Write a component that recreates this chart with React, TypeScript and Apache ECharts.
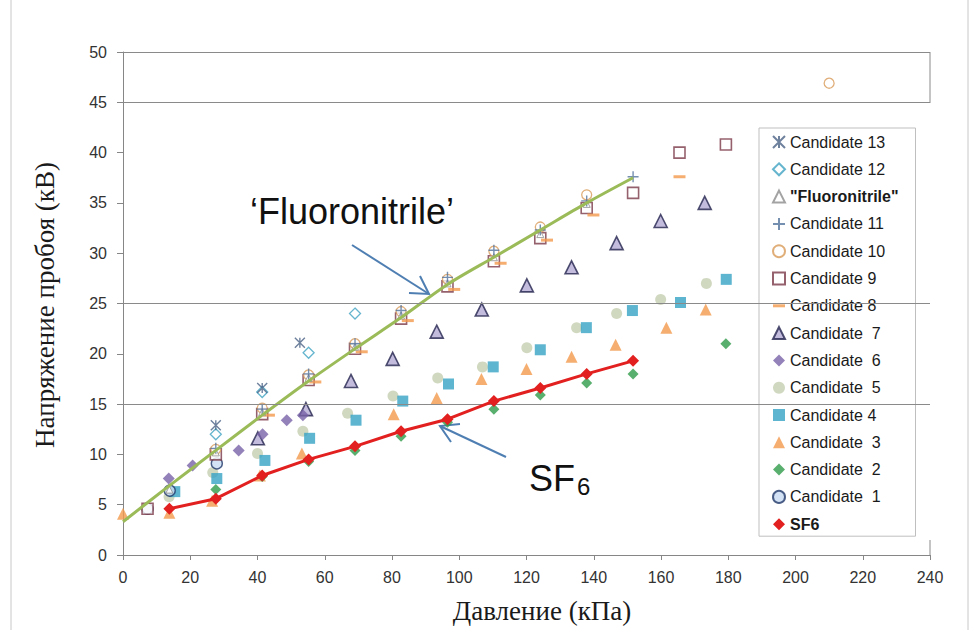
import React, { useEffect, useRef } from 'react';
import * as echarts from 'echarts';

// ---- data (pressure kPa, breakdown voltage kV) ----
const candidate13: [number, number][] = [[27.6, 12.9], [41.4, 16.6], [52.6, 21.1]];
const candidate12: [number, number][] = [[27.6, 12.0], [41.4, 16.2], [55.2, 20.1], [69, 24.0]];
const fluoronitrile: [number, number][] = [[13.8, 6.5], [27.6, 10.2], [41.4, 14.2], [55.2, 17.6], [69, 20.7], [82.7, 23.8], [96.5, 27.0], [110.3, 29.6], [124.1, 31.9], [137.9, 34.9]];
const candidate11: [number, number][] = [[27.6, 10.6], [41.4, 14.5], [55.2, 18.0], [69, 21.0], [82.7, 24.3], [96.5, 27.6], [110.3, 30.3], [124.1, 32.3], [137.9, 35.2], [151.7, 37.6]];
const candidate10: [number, number][] = [[27.6, 10.5], [41.4, 14.6], [55.2, 17.9], [69, 21.0], [82.7, 24.2], [96.5, 27.4], [110.3, 30.2], [124.1, 32.6], [137.9, 35.8], [210, 46.9]];
const candidate9: [number, number][] = [[7.3, 4.6], [27.6, 10.0], [41.4, 14.0], [55.2, 17.4], [69, 20.5], [82.7, 23.5], [96.5, 26.7], [110.3, 29.2], [124.1, 31.5], [137.9, 34.5], [151.7, 36.0], [165.5, 40.0], [179.3, 40.8]];
const candidate8: [number, number][] = [[43.4, 13.9], [57.2, 17.2], [71, 20.2], [84.7, 23.3], [98.5, 26.4], [112.3, 29.0], [126.1, 31.3], [139.9, 33.8], [165.5, 37.6]];
const candidate7: [number, number][] = [[40.1, 11.6], [54.4, 14.5], [67.8, 17.3], [80.2, 19.5], [93.3, 22.2], [106.7, 24.4], [120.1, 26.8], [133.4, 28.6], [146.8, 31.0], [159.9, 33.2], [173, 35.0]];
const candidate6: [number, number][] = [[13.6, 7.6], [20.7, 8.9], [34.4, 10.4], [41.5, 12.0], [48.7, 13.4], [53.5, 13.9]];
const candidate5: [number, number][] = [[13.7, 5.8], [26.7, 8.2], [40, 10.1], [53.5, 12.3], [66.8, 14.1], [80.3, 15.8], [93.6, 17.6], [106.9, 18.7], [120.1, 20.6], [134.9, 22.6], [146.8, 24.0], [159.9, 25.4], [173.5, 27.0]];
const candidate4: [number, number][] = [[15.4, 6.3], [27.9, 7.6], [42.2, 9.4], [55.5, 11.6], [69.3, 13.4], [83.2, 15.3], [96.8, 17.0], [110.1, 18.7], [124.1, 20.4], [137.8, 22.6], [151.5, 24.3], [165.8, 25.1], [179.4, 27.4]];
const candidate3: [number, number][] = [[0, 4.1], [13.8, 4.2], [26.5, 5.4], [40.7, 7.9], [53.2, 10.1], [80.5, 14.0], [93.3, 15.6], [106.6, 17.5], [120, 18.5], [133.4, 19.7], [146.5, 20.9], [161.6, 22.6], [173.3, 24.4]];
const candidate2: [number, number][] = [[27.6, 6.5], [41.4, 7.8], [55.2, 9.3], [69, 10.4], [82.7, 11.8], [96.5, 13.2], [110.3, 14.5], [124.1, 15.9], [137.9, 17.1], [151.7, 18.0], [179.3, 21.0]];
const candidate1: [number, number][] = [[7.3, 4.6], [13.9, 6.4], [27.9, 9.1]];
const sf6: [number, number][] = [[13.8, 4.6], [27.6, 5.6], [41.4, 7.9], [55.2, 9.5], [69, 10.8], [82.7, 12.3], [96.5, 13.5], [110.3, 15.3], [124.1, 16.6], [137.9, 18.0], [151.7, 19.3]];
const trendX = [0, 13.8, 27.6, 41.4, 55.2, 69, 82.7, 96.5, 110.3, 124.1, 137.9, 151.7];
const trendY = [3.3, 6.9, 10.4, 13.9, 17.3, 20.5, 23.6, 26.9, 29.6, 32.3, 35.0, 37.5];
const gridLevels = [15, 25, 45, 50];

const legendNames = [
  'Candidate 13', 'Candidate 12', '"Fluoronitrile"', 'Candidate 11', 'Candidate 10',
  'Candidate 9', 'Candidate 8', 'Candidate  7', 'Candidate  6', 'Candidate  5',
  'Candidate 4', 'Candidate  3', 'Candidate  2', 'Candidate  1', 'SF6',
];

const SANS = '"Liberation Sans", Arial, sans-serif';
const SERIF = '"Liberation Serif", "Times New Roman", serif';

const ASTER = 'path://M0,0L10,10M10,0L0,10M5,0L5,10';
const PLUS = 'path://M5,0L5,10M0,5L10,5';
const DASH = 'path://M0,0L10,0L10,2.5L0,2.5Z';

function sc(name: string, data: [number, number][], symbol: string, size: any, itemStyle: any, z = 3) {
  return { type: 'scatter', name, data, symbol, symbolSize: size, itemStyle, z };
}

export default function App() {
  const ref = useRef<HTMLDivElement>(null);
  useEffect(() => {
    const chart = echarts.init(ref.current!, undefined, { renderer: 'svg' });
    const trend = trendX.map((x, i) => [x, trendY[i]]);
    const series: any[] = [
      {
        type: 'line', name: 'grid', data: [], z: 1,
        markLine: {
          silent: true, symbol: 'none', label: { show: false },
          lineStyle: { color: '#8a8a8a', width: 1, type: 'solid' },
          data: gridLevels.map((v) => ({ yAxis: v })),
        },
      },
      sc('Candidate  5', candidate5, 'circle', 11, { color: '#c4ceb0' }),
      sc('Candidate 4', candidate4, 'rect', 11, { color: '#35a2c4' }),
      sc('Candidate  3', candidate3, 'triangle', 12, { color: '#f39a4c' }),
      sc('Candidate  2', candidate2, 'diamond', 11, { color: '#2f9b48' }),
      sc('Candidate  7', candidate7, 'triangle', 13, { color: '#b4abd4', borderColor: '#23234d', borderWidth: 1.6 }),
      sc('Candidate  6', candidate6, 'diamond', 12, { color: '#7862a8' }),
      sc('Candidate  1', candidate1, 'circle', 11, { color: '#c9dbf2', borderColor: '#1f3768', borderWidth: 1.4 }),
      sc('Candidate 9', candidate9, 'rect', 11, { color: '#ffffff', borderColor: '#7a3a48', borderWidth: 1.6 }),
      sc('Candidate 10', candidate10, 'circle', 10, { color: '#ffffff', borderColor: '#d89a58', borderWidth: 1.3 }),
      sc('Candidate 8', candidate8, DASH, [12, 3], { color: '#f39a4c' }),
      sc('Candidate 12', candidate12, 'diamond', 11, { color: '#ffffff', borderColor: '#3ea3c2', borderWidth: 1.3 }),
      sc('Candidate 13', candidate13, ASTER, 10, { color: 'transparent', borderColor: '#4a6285', borderWidth: 1.4 }),
      sc('"Fluoronitrile"', fluoronitrile, 'triangle', 7, { color: '#ffffff', borderColor: '#8c8c8c', borderWidth: 1 }),
      sc('Candidate 11', candidate11, PLUS, 11, { color: 'transparent', borderColor: '#53739c', borderWidth: 1.4 }),
      {
        type: 'line', name: 'trend', data: trend, smooth: 0.3, symbol: 'none',
        lineStyle: { color: '#9bbb59', width: 3 }, z: 4,
      },
      {
        type: 'line', name: 'SF6', data: sf6, symbol: 'diamond', symbolSize: 12,
        lineStyle: { color: '#e2201f', width: 3 }, itemStyle: { color: '#e2201f' }, z: 5,
      },
    ];

    const legendData = legendNames.map((n) => {
      const item: any = { name: n };
      if (n === 'SF6') { item.icon = 'diamond'; item.textStyle = { fontWeight: 'bold' }; }
      if (n === '"Fluoronitrile"') { item.textStyle = { fontWeight: 'bold' }; }
      return item;
    });

    const arrowColor = '#4f7fb2';
    chart.setOption({
      animation: false,
      backgroundColor: '#ffffff',
      grid: { left: 123, right: 44, top: 52, bottom: 75, containLabel: false },
      xAxis: {
        type: 'value', min: 0, max: 240, interval: 20,
        axisLine: { lineStyle: { color: '#868686', width: 1 } },
        axisTick: { show: true, length: 5, lineStyle: { color: '#868686' } },
        axisLabel: { fontSize: 16, color: '#333333', fontFamily: SANS, margin: 14 },
        splitLine: { show: false },
      },
      yAxis: {
        type: 'value', min: 0, max: 50, interval: 5,
        axisLine: { show: true, lineStyle: { color: '#868686', width: 1 } },
        axisTick: { show: true, length: 6, lineStyle: { color: '#868686' } },
        axisLabel: { fontSize: 16, color: '#333333', fontFamily: SANS, margin: 16 },
        splitLine: { show: false },
      },
      legend: {
        orient: 'vertical', left: 759, top: 128,
        padding: [6, 17, 4, 13], itemGap: 11.3, itemWidth: 12, itemHeight: 12,
        borderColor: '#bfbfbf', borderWidth: 1, backgroundColor: '#ffffff',
        textStyle: { fontSize: 16, fontFamily: SANS, color: '#1a1a1a', lineHeight: 16 },
        data: legendData,
      },
      series,
      graphic: [
        { type: 'line', shape: { x1: 11, y1: 0, x2: 11, y2: 630 }, style: { stroke: '#c8c8c8', lineWidth: 1 } },
        { type: 'line', shape: { x1: 968, y1: 0, x2: 968, y2: 630 }, style: { stroke: '#c8c8c8', lineWidth: 1 } },
        { type: 'line', shape: { x1: 930, y1: 52, x2: 930, y2: 103 }, style: { stroke: '#8a8a8a', lineWidth: 1 } },
        { type: 'line', shape: { x1: 930, y1: 540, x2: 930, y2: 555 }, style: { stroke: '#8a8a8a', lineWidth: 1 } },
        {
          type: 'text', x: 45, y: 305, rotation: Math.PI / 2,
          style: { text: 'Напряжение пробоя (кВ)', font: `27px ${SERIF}`, fill: '#1a1a1a', textAlign: 'center', align: 'center', textVerticalAlign: 'middle', verticalAlign: 'middle' },
        },
        {
          type: 'text', x: 542, y: 611,
          style: { text: 'Давление (кПа)', font: `27px ${SERIF}`, fill: '#1a1a1a', textAlign: 'center', align: 'center', textVerticalAlign: 'middle', verticalAlign: 'middle' },
        },
        {
          type: 'text', x: 250, y: 211,
          style: { text: '‘Fluoronitrile’', font: `36px ${SANS}`, fill: '#111111', textAlign: 'left', align: 'left', textVerticalAlign: 'middle', verticalAlign: 'middle' },
        },
        {
          type: 'text', x: 529, y: 478,
          style: { text: 'SF', font: `36px ${SANS}`, fill: '#111111', textAlign: 'left', align: 'left', textVerticalAlign: 'middle', verticalAlign: 'middle' },
        },
        {
          type: 'text', x: 577, y: 486,
          style: { text: '6', font: `24px ${SANS}`, fill: '#111111', textAlign: 'left', align: 'left', textVerticalAlign: 'middle', verticalAlign: 'middle' },
        },
        { type: 'line', shape: { x1: 352, y1: 245, x2: 429, y2: 294 }, style: { stroke: arrowColor, lineWidth: 2 } },
        { type: 'polyline', shape: { points: [[420, 276], [429, 294], [409, 293]] }, style: { stroke: arrowColor, lineWidth: 2, fill: null } },
        { type: 'line', shape: { x1: 506, y1: 457, x2: 440, y2: 426 }, style: { stroke: arrowColor, lineWidth: 2 } },
        { type: 'polyline', shape: { points: [[460, 424], [440, 426], [451, 442]] }, style: { stroke: arrowColor, lineWidth: 2, fill: null } },
      ],
    });
    return () => chart.dispose();
  }, []);
  return <div ref={ref} style={{ position: 'fixed', left: 0, top: 0, width: 974, height: 630 }} />;
}
